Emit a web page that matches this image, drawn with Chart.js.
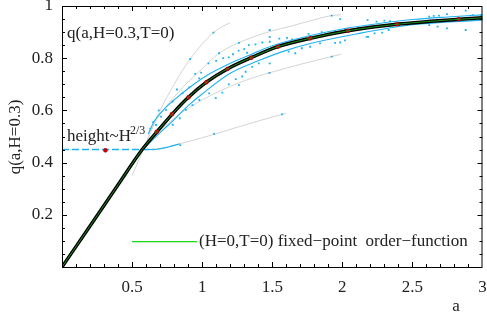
<!DOCTYPE html>
<html><head><meta charset="utf-8">
<script src="https://cdn.jsdelivr.net/npm/chart.js@4/dist/chart.umd.min.js"></script>
<style>html,body{margin:0;padding:0;background:#fff;}</style>
</head><body>
<canvas id="c" width="487" height="321"></canvas>
<script>
// ---- data ----
const aMain = [0, 0.2, 0.4, 0.572, 0.68, 0.79, 0.9, 1.03, 1.18, 1.35, 1.54, 1.77, 2.04, 2.39, 2.83, 3];
const qMain = [0, 0.157, 0.315, 0.45, 0.52, 0.588, 0.649, 0.708, 0.759, 0.802, 0.844, 0.876, 0.905, 0.930, 0.949, 0.955];

const aRed = [0.31, 0.676, 0.785, 0.903, 1.03, 1.18, 1.35, 1.54, 1.77, 2.04, 2.39, 2.83];
const qRed = [0.447, 0.518, 0.586, 0.650, 0.708, 0.759, 0.802, 0.844, 0.876, 0.905, 0.930, 0.949];

const aDash = [0, 0.66];
const qDash = [0.45, 0.45];

const aGray1 = [0.5, 0.58, 0.7, 0.8, 0.915, 1.08, 1.2];
const qGray1 = [0.35, 0.45, 0.6, 0.7, 0.797, 0.898, 0.937];
const aGray2 = [0.6, 0.636, 0.813, 1.0, 1.12, 1.26, 1.5, 1.62, 1.75, 1.92, 1.99];
const qGray2 = [0.47, 0.525, 0.659, 0.76, 0.819, 0.859, 0.905, 0.921, 0.94, 0.963, 0.966];
const aGray3 = [0.6, 0.8, 1.0, 1.26, 1.48, 1.92, 1.99];
const qGray3 = [0.47, 0.57, 0.64, 0.705, 0.744, 0.806, 0.815];
const aGray4 = [0.58, 0.67, 0.84, 1.07, 1.26, 1.57, 1.6];
const qGray4 = [0.449, 0.451, 0.472, 0.506, 0.537, 0.585, 0.589];

const aCyanUp = [0.615, 0.66, 0.72, 0.8, 0.9, 1.03, 1.19, 1.33, 1.5, 1.75, 2.0, 2.25, 2.5, 2.75, 3];
const qCyanUp = [0.51, 0.56, 0.6, 0.64, 0.684, 0.733, 0.778, 0.81, 0.848, 0.884, 0.912, 0.932, 0.948, 0.958, 0.966];
const aCyanLo = [0.58, 0.7, 0.8, 0.9, 1.0, 1.2, 1.4, 1.6, 1.8, 2.1, 2.5, 3];
const qCyanLo = [0.452, 0.515, 0.565, 0.618, 0.663, 0.742, 0.79, 0.83, 0.86, 0.893, 0.928, 0.946];
const aCyanFlare = [0.57, 0.67, 0.76, 0.84];
const qCyanFlare = [0.45, 0.451, 0.46, 0.472];

const aCyanDots = [0.63, 0.65, 0.671, 0.69, 0.707, 0.742, 0.789, 0.82, 0.86, 0.908, 0.95, 0.979, 0.993, 1.045, 1.1, 1.12, 1.15, 1.19, 1.22, 1.26, 1.3, 1.32,
  0.915, 1.08, 0.79, 0.84, 0.884, 0.931, 0.98, 1.05, 1.097, 1.144, 1.19, 1.24, 1.286,
  0.844, 1.085, 1.57, 1.924, 1.924, 1.262, 1.262, 1.48,
  1.482, 1.482, 1.482, 1.482,
  1.333, 1.38, 1.43, 1.55, 1.605, 1.64, 1.759, 1.853, 1.948, 2.02, 2.113,
  1.31, 1.357, 1.404, 1.617, 1.664, 1.711, 1.771, 1.841, 1.948, 2.019, 2.173,
  1.57, 1.985, 1.985,
  2.18, 2.244, 2.30, 2.34, 2.184, 2.23, 2.284, 2.33, 2.62, 2.652, 2.69, 2.747, 2.88, 2.93, 2.99, 2.62, 2.68, 2.747, 2.88];
const qCyanDots = [0.53, 0.555, 0.544, 0.6, 0.576, 0.602, 0.634, 0.68, 0.665, 0.688, 0.74, 0.723, 0.745, 0.780, 0.79, 0.819, 0.8, 0.803, 0.815, 0.829, 0.835, 0.821,
  0.797, 0.898, 0.545, 0.57, 0.602, 0.62, 0.64, 0.665, 0.647, 0.668, 0.70, 0.72, 0.73,
  0.467, 0.510, 0.585, 0.963, 0.806, 0.697, 0.859, 0.744,
  0.908, 0.882, 0.863, 0.780,
  0.85, 0.853, 0.86, 0.875, 0.878, 0.872, 0.893, 0.90, 0.905, 0.912, 0.918,
  0.748, 0.767, 0.78, 0.825, 0.819, 0.838, 0.844, 0.857, 0.859, 0.868, 0.882,
  1.0, 0.95, 0.86,
  0.946, 0.940, 0.944, 0.942, 0.882, 0.895, 0.898, 0.908, 0.959, 0.962, 0.963, 0.969, 0.982, 0.965, 0.965, 0.927, 0.921, 0.914, 0.908];

const xTickLabels = ['0.5', '1', '1.5', '2', '2.5', '3'];
const yTickLabels = ['0.2', '0.4', '0.6', '0.8', '1'];

const pts = (xs, ys) => xs.map((x, i) => ({x: x, y: ys[i]}));
const CYAN = '#1fb2f2';
const GRAY = '#d4d4d4';
const FONT = 'Liberation Serif';

function lineDS(xs, ys, color, width, order, extra) {
  return Object.assign({data: pts(xs, ys), showLine: true, borderColor: color, borderWidth: width,
    pointRadius: 0, fill: false, tension: 0.4, cubicInterpolationMode: 'monotone', order: order}, extra || {});
}

const datasets = [
  lineDS(aMain, qMain, '#1c8c1c', 1, 0),
  {data: pts(aRed, qRed), showLine: false, pointRadius: 2, pointStyle: 'circle', backgroundColor: '#d00000', borderColor: '#900000', borderWidth: 0.5, order: 1},
  lineDS(aMain, qMain, '#000000', 3.4, 2),
  {data: pts(aCyanDots, qCyanDots), showLine: false, pointRadius: 1.3, pointStyle: 'rect', backgroundColor: CYAN, borderColor: CYAN, borderWidth: 0, order: 3},
  lineDS(aCyanUp, qCyanUp, CYAN, 1.1, 4),
  lineDS(aCyanLo, qCyanLo, CYAN, 1.1, 4),
  lineDS(aCyanFlare, qCyanFlare, CYAN, 1.1, 4),
  lineDS(aGray1, qGray1, GRAY, 1, 5),
  lineDS(aGray2, qGray2, GRAY, 1, 5),
  lineDS(aGray3, qGray3, GRAY, 1, 5),
  lineDS(aGray4, qGray4, GRAY, 1, 5),
  lineDS(aDash, qDash, CYAN, 1.5, 6, {borderDash: [7, 3], tension: 0})
];

const framePlugin = {
  id: 'frame',
  afterDraw(chart) {
    const c = chart.ctx, xs = chart.scales.x, ys = chart.scales.y;
    const L = xs.left, R = xs.right, T = ys.top, B = ys.bottom;
    c.save();
    c.setLineDash([]);
    c.strokeStyle = '#000'; c.lineWidth = 1;
    c.strokeRect(L + 0.5, T + 0.5, R - L - 1, B - T);
    c.beginPath();
    for (let i = 1; i < 30; i++) {
      const v = i / 10, px = Math.round(xs.getPixelForValue(v)) + 0.5;
      const len = (i % 5 === 0) ? 5 : 3;
      c.moveTo(px, B); c.lineTo(px, B - len);
      c.moveTo(px, T); c.lineTo(px, T + len);
    }
    for (let i = 1; i < 20; i++) {
      const v = i / 20, py = Math.round(ys.getPixelForValue(v)) + 0.5;
      const len = (i % 4 === 0) ? 5 : 3;
      c.moveTo(L, py); c.lineTo(L + len, py);
      c.moveTo(R, py); c.lineTo(R - len, py);
    }
    c.stroke();
    // legend line
    c.fillStyle = '#20d820';
    c.fillRect(132, 241, 65, 1.3);
    // texts
    c.fillStyle = '#222';
    c.textBaseline = 'middle';
    c.textAlign = 'left';
    c.font = '17px "' + FONT + '"';
    c.fillText('q(a,H=0.3,T=0)', 67, 34);
    c.fillText('height~H', 67, 137);
    c.font = '12px "' + FONT + '"';
    c.fillText('2/3', 130, 131);
    c.font = '17px "' + FONT + '"';
    c.fillText('(H=0,T=0) fixed\u2212point  order\u2212function', 199, 242);
    // axis titles
    c.textAlign = 'center';
    c.fillText('a', 456, 307);
    c.translate(16, 137); c.rotate(-Math.PI / 2);
    c.fillText('q(a,H=0.3)', 0, 0);
    c.restore();
  }
};

new Chart(document.getElementById('c'), {
  type: 'scatter',
  data: {datasets: datasets},
  options: {
    responsive: false, animation: false, devicePixelRatio: 1,
    plugins: {legend: {display: false}, tooltip: {enabled: false}},
    layout: {padding: {top: 6, right: 2, left: 0, bottom: 0}},
    scales: {
      x: {
        type: 'linear', min: 0, max: 3,
        afterBuildTicks(s) { s.ticks = xTickLabels.map(t => ({value: parseFloat(t)})); },
        ticks: {callback: (v) => xTickLabels.find(t => Math.abs(parseFloat(t) - v) < 1e-6) || '', font: {family: FONT, size: 17}, color: '#222', padding: 10, maxRotation: 0, autoSkip: false},
        grid: {display: false, drawTicks: false},
        border: {display: false},
        afterFit(s) { s.height = 54; s.paddingLeft = 0; s.paddingRight = 0; }
      },
      y: {
        type: 'linear', min: 0, max: 1,
        afterBuildTicks(s) { s.ticks = yTickLabels.map(t => ({value: parseFloat(t)})); },
        ticks: {callback: (v) => yTickLabels.find(t => Math.abs(parseFloat(t) - v) < 1e-6) || '', font: {family: FONT, size: 17}, color: '#222', padding: 9, autoSkip: false},
        grid: {display: false, drawTicks: false},
        border: {display: false},
        afterFit(s) { s.width = 62; s.paddingTop = 0; s.paddingBottom = 0; }
      }
    }
  },
  plugins: [framePlugin]
});
</script>
</body></html>
